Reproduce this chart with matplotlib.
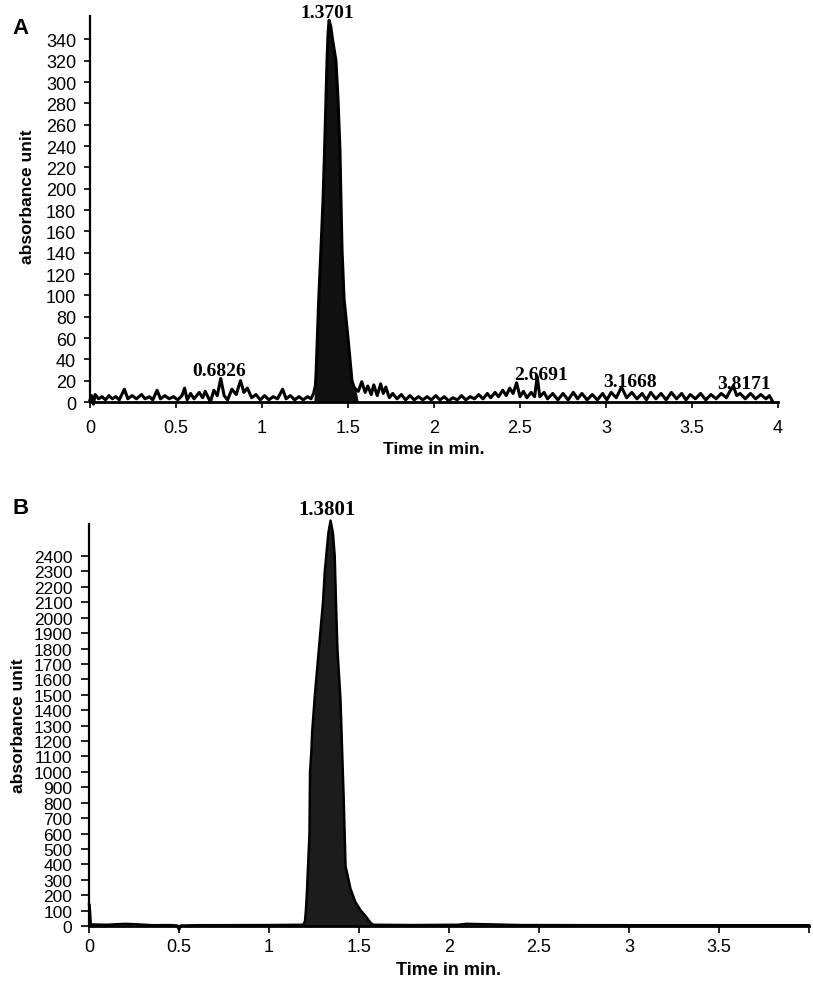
import matplotlib
matplotlib.use("Agg")
import matplotlib.pyplot as plt
from matplotlib import font_manager

# ---------------- data ----------------
# Panel A chromatogram (time in min, absorbance)
a_time = [0.00, 0.01, 0.02, 0.03, 0.05, 0.07, 0.09, 0.11, 0.13, 0.15, 0.17, 0.20, 0.22, 0.245,
          0.27, 0.30, 0.32, 0.345, 0.365, 0.39, 0.41, 0.435, 0.46, 0.485, 0.51, 0.535, 0.55,
          0.565, 0.585, 0.605, 0.635, 0.655, 0.67, 0.70, 0.72, 0.74, 0.76, 0.78, 0.80, 0.825,
          0.85, 0.875, 0.895, 0.915, 0.94, 0.965, 0.99, 1.015, 1.04, 1.065, 1.09, 1.12, 1.14,
          1.165, 1.19, 1.215, 1.24, 1.265, 1.285,
          1.30, 1.31, 1.314, 1.322, 1.33, 1.342, 1.355, 1.364, 1.372, 1.378, 1.384, 1.39,
          1.40, 1.41, 1.43, 1.442, 1.453, 1.459, 1.465, 1.477, 1.50, 1.523, 1.535,
          1.545, 1.56, 1.58, 1.60, 1.615, 1.635, 1.65, 1.67, 1.69, 1.705, 1.72, 1.74, 1.76,
          1.785, 1.81, 1.835, 1.86, 1.885, 1.91, 1.935, 1.96, 1.985, 2.01, 2.035, 2.06, 2.085,
          2.11, 2.135, 2.16, 2.185, 2.21, 2.235, 2.26, 2.285, 2.31, 2.33, 2.355, 2.375, 2.40,
          2.42, 2.44, 2.46, 2.48, 2.50, 2.52, 2.54, 2.565, 2.585, 2.60, 2.615, 2.64, 2.66,
          2.69, 2.72, 2.75, 2.78, 2.81, 2.835, 2.86, 2.89, 2.92, 2.95, 2.98, 3.005, 3.03,
          3.06, 3.09, 3.12, 3.15, 3.18, 3.21, 3.235, 3.26, 3.29, 3.32, 3.35, 3.38, 3.41,
          3.44, 3.465, 3.49, 3.52, 3.55, 3.58, 3.61, 3.64, 3.67, 3.70, 3.72, 3.74, 3.76,
          3.78, 3.81, 3.84, 3.87, 3.90, 3.93, 3.95, 3.97]
a_abs = [2, 6, -2, 7, 3, 5, 2, 6, 3, 5, 2, 12, 3, 6,
         3, 7, 3, 5, 2, 11, 3, 6, 3, 5, 2, 6, 13,
         2, 8, 3, 9, 4, 10, 0, 11, 6, 22, 6, 2, 12,
         7, 20, 9, 13, 4, 7, 2, 6, 2, 5, 3, 12, 3,
         6, 2, 5, 2, 5, 3,
         8, 15, 25, 60, 97, 140, 190, 237, 284, 320, 345, 358,
         352, 340, 320, 284, 237, 190, 144, 97, 60, 20, 14,
         12, 10, 19, 9, 15, 7, 16, 6, 17, 8, 14, 4, 8,
         3, 7, 2, 6, 2, 5, 2, 5, 2, 6, 2, 5, 1,
         4, 2, 6, 2, 5, 3, 7, 3, 8, 4, 9, 5, 11,
         6, 13, 8, 18, 5, 10, 4, 9, 5, 24, 5, 9, 3,
         8, 2, 8, 2, 9, 3, 8, 2, 7, 2, 8, 2, 9,
         4, 14, 4, 9, 3, 8, 2, 9, 3, 8, 2, 9, 3,
         8, 2, 7, 3, 8, 2, 7, 3, 8, 4, 10, 15, 6,
         8, 3, 8, 3, 7, 3, 6, 0]
a_peak_labels = ["0.6826", "1.3701", "2.6691", "3.1668", "3.8171"]
a_peak_label_t = [0.75, 1.378, 2.62, 3.14, 3.80]
a_peak_label_v = [22, 357, 18, 11, 9]

# Panel B chromatogram
b_time = [0.0, 0.003, 0.01, 0.1, 0.2, 0.28, 0.35, 0.45, 0.49, 0.5, 0.51, 0.6, 1.0, 1.19,
          1.20, 1.205, 1.21, 1.225, 1.228, 1.235, 1.24, 1.255, 1.27, 1.285, 1.30, 1.31,
          1.318, 1.33, 1.342, 1.355, 1.365, 1.372, 1.38, 1.397, 1.415, 1.425, 1.453, 1.48,
          1.51, 1.536, 1.565, 1.58, 1.8, 2.05, 2.1, 2.25, 2.4, 3.0, 4.0]
b_abs = [140, 140, 10, 8, 14, 10, 5, 6, 3, -25, 3, 5, 6, 8,
         30, 100, 200, 600, 1000, 1120, 1260, 1500, 1700, 1900, 2100, 2300,
         2400, 2550, 2630, 2550, 2400, 2100, 1800, 1470, 820, 390, 240, 155,
         100, 65, 20, 8, 6, 8, 14, 10, 6, 5, 5]
b_peak_labels = ["1.3801"]
b_peak_label_t = [1.32]
b_peak_label_v = [2640]

a_xticks = [0, 0.5, 1, 1.5, 2, 2.5, 3, 3.5, 4]
a_xticklabels = ["0", "0.5", "1", "1.5", "2", "2.5", "3", "3.5", "4"]
a_yticks = list(range(0, 341, 20))
b_xticks = [0, 0.5, 1, 1.5, 2, 2.5, 3, 3.5, 4]
b_xticklabels = ["0", "0.5", "1", "1.5", "2", "2.5", "3", "3.5", ""]
b_yticks = list(range(0, 2401, 100))

# ---------------- style ----------------
avail = {f.name for f in font_manager.fontManager.ttflist}
sans = "Liberation Sans" if "Liberation Sans" in avail else "DejaVu Sans"
narrow = "Liberation Sans Narrow" if "Liberation Sans Narrow" in avail else sans
serif = "Liberation Serif" if "Liberation Serif" in avail else "DejaVu Serif"
plt.rcParams['font.family'] = [sans, 'DejaVu Sans']

fig = plt.figure(figsize=(8.13, 9.87), dpi=100)

def style_axes(ax):
    for s in ("top", "right"):
        ax.spines[s].set_visible(False)
    ax.spines["left"].set_linewidth(1.6)
    ax.spines["bottom"].set_linewidth(2.0)
    ax.tick_params(axis="both", direction="out", length=4, width=1.2, colors="black")

# ---- Panel A ----
axA = fig.add_axes([90/813, 1-403/987, 688/813, 386/987])
style_axes(axA)
axA.fill_between(a_time, 0, a_abs, where=[v > 9 and 1.29 < t < 1.55 for t, v in zip(a_time, a_abs)],
                 color="#111111", linewidth=0, interpolate=True)
axA.plot(a_time, a_abs, color="black", lw=2.2, solid_joinstyle="round", clip_on=False)
axA.set_xlim(0, 4)
axA.set_ylim(0, 362)
axA.set_xticks(a_xticks)
axA.set_xticklabels(a_xticklabels, fontsize=13)
axA.set_yticks(a_yticks)
axA.set_yticklabels([str(v) for v in a_yticks], fontsize=13)
axA.tick_params(axis="y", pad=6)
axA.tick_params(axis="x", pad=8)
axA.set_xlabel("Time in min.", fontsize=12.5, fontweight="bold")
axA.xaxis.set_label_coords(0.5, -0.100)
axA.set_ylabel("absorbance unit", fontsize=12.5, fontweight="bold")
axA.yaxis.set_label_coords(-0.080, 0.535)
for lab, t, v in zip(a_peak_labels, a_peak_label_t, a_peak_label_v):
    axA.text(t, v, lab, ha="center", va="bottom", fontsize=14, fontweight="bold",
             family=serif, clip_on=False)
fig.text(12/813, 1-28/987, "A", fontsize=16, fontweight="bold", va="center", ha="left")

# ---- Panel B ----
axB = fig.add_axes([89/813, 1-927/987, 720/813, 402/987])
style_axes(axB)
axB.fill_between(b_time, 0, b_abs, where=[1.18 < t < 1.6 for t in b_time],
                 color="#1c1c1c", linewidth=0, interpolate=True, clip_on=False)
axB.plot(b_time, b_abs, color="black", lw=1.8, clip_on=False)
axB.set_xlim(0, 4)
axB.set_ylim(0, 2608)
axB.set_xticks(b_xticks)
axB.set_xticklabels(b_xticklabels, fontsize=13, family=[narrow, 'DejaVu Sans'])
axB.set_yticks(b_yticks)
axB.set_yticklabels([str(v) for v in b_yticks], fontsize=12.5, family=[narrow, 'DejaVu Sans'])
axB.tick_params(axis="y", pad=6, length=6)
axB.tick_params(axis="x", pad=4, length=5)
axB.set_xlabel("Time in min.", fontsize=13, fontweight="bold", family=[narrow, 'DejaVu Sans'])
axB.xaxis.set_label_coords(0.5, -0.088)
axB.set_ylabel("absorbance unit", fontsize=12.5, fontweight="bold")
axB.yaxis.set_label_coords(-0.088, 0.50)
for lab, t, v in zip(b_peak_labels, b_peak_label_t, b_peak_label_v):
    axB.text(t, v, lab, ha="center", va="bottom", fontsize=15, fontweight="bold",
             family=serif, clip_on=False)
fig.text(12/813, 1-508/987, "B", fontsize=16, fontweight="bold", va="center", ha="left")

fig.savefig("out.png", dpi=100)
